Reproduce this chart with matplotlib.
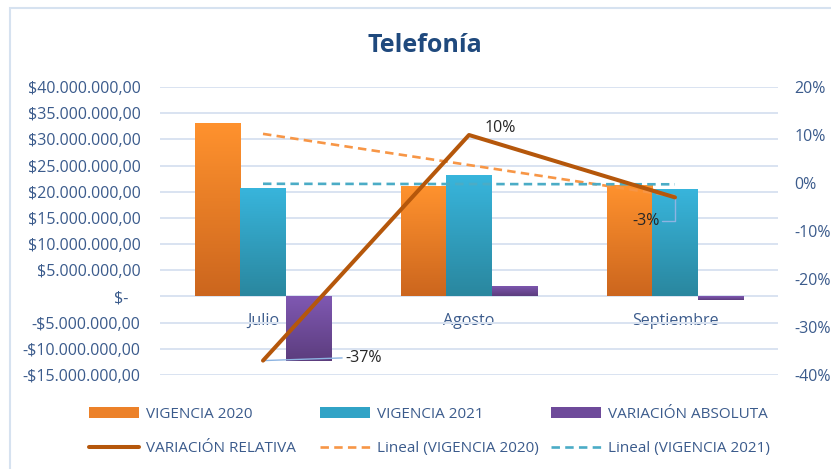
import matplotlib.pyplot as plt
import numpy as np
from matplotlib.colors import LinearSegmentedColormap
from matplotlib.patches import Rectangle
from matplotlib.ticker import FuncFormatter, MultipleLocator

# ============================================================
# DATA
# ============================================================
meses = ['Julio', 'Agosto', 'Septiembre']
vigencia_2020 = [33.1e6, 21.0e6, 21.2e6]
vigencia_2021 = [20.7e6, 23.1e6, 20.6e6]
variacion_abs = [-12.4e6, 2.0e6, -0.6e6]
variacion_rel = [-0.37, 0.10, -0.03]

# ============================================================
# STYLE
# ============================================================
plt.rcParams['font.family'] = ['Open Sans', 'DejaVu Sans']
TXT = '#3B5B8C'
GRID = '#D9E3F1'
W, H = 831, 469


def money(v, pos):
    if abs(v) < 1:
        return '$-   '
    s = f"{abs(v):,.2f}".replace(',', 'X').replace('.', ',').replace('X', '.')
    return ('-$' if v < 0 else '$') + s


def gradient_bars(ax, bars, top, bottom):
    cmap = LinearSegmentedColormap.from_list('g', [top, bottom])
    grad = np.linspace(0, 1, 64).reshape(-1, 1)
    for b in bars:
        x0, y0 = b.get_x(), b.get_y()
        w, h = b.get_width(), b.get_height()
        im = ax.imshow(grad, cmap=cmap, extent=(x0, x0 + w, min(y0, y0 + h), max(y0, y0 + h)),
                       aspect='auto', origin='upper', zorder=2.1)
        im.set_clip_path(b)


fig = plt.figure(figsize=(W / 100, H / 100), dpi=100)
fig.add_artist(Rectangle((10 / W, -0.05), 1.1, 1 - 8 / H + 0.05, transform=fig.transFigure,
                         fill=False, edgecolor='#D6E2F0', lw=1.5))
fig.text(425 / W, 1 - 45 / H, 'Telefonía', ha='center', va='center',
         fontsize=18, fontweight='bold', color='#1F497D')

ax = fig.add_axes([160 / W, 94 / H, 618 / W, 288 / H])
x = np.arange(len(meses))
bw = 0.22

b20 = ax.bar(x - bw, vigencia_2020, bw, color='#EC8129', zorder=2, label='VIGENCIA 2020')
b21 = ax.bar(x, vigencia_2021, bw, color='#31A3C6', zorder=2, label='VIGENCIA 2021')
bab = ax.bar(x + bw, variacion_abs, bw, color='#6E4A9A', zorder=2, label='VARIACIÓN ABSOLUTA')
gradient_bars(ax, b20, '#FF922E', '#CC661E')
gradient_bars(ax, b21, '#38B5DC', '#2A879F')
gradient_bars(ax, bab, '#7F58B2', '#5C3D7E')

# linear trendlines (as Excel computes them)
p20 = np.polyfit(x, vigencia_2020, 1)
p21 = np.polyfit(x, vigencia_2021, 1)
t20, = ax.plot(x, np.polyval(p20, x), color='#F79646', lw=1.9, ls=(0, (3.2, 2)), zorder=3,
               label='Lineal (VIGENCIA 2020)')
t21, = ax.plot(x, np.polyval(p21, x), color='#4BACC6', lw=1.9, ls=(0, (3.2, 2)), zorder=3,
               label='Lineal (VIGENCIA 2021)')

ax.set_xlim(-0.5, 2.5)
ax.set_ylim(-15e6, 40e6)
ax.yaxis.set_major_locator(MultipleLocator(5e6))
ax.yaxis.set_major_formatter(FuncFormatter(money))
ax.grid(axis='y', color=GRID, lw=1.4)
ax.set_axisbelow(True)
ax.set_xticks(x)
ax.set_xticklabels(meses)
ax.spines['bottom'].set_position(('data', 0))
for s in ax.spines.values():
    s.set_visible(False)
ax.tick_params(axis='x', length=0, pad=12, labelsize=11.5, labelcolor=TXT)
ax.tick_params(axis='y', length=0, pad=14, labelsize=11.5, labelcolor=TXT)

# ============================================================
# SECONDARY AXIS: VARIACIÓN RELATIVA
# ============================================================
ax2 = ax.twinx()
rel, = ax2.plot(x, variacion_rel, color='#B5570B', lw=2.9, solid_capstyle='round',
                solid_joinstyle='round', zorder=4, label='VARIACIÓN RELATIVA')
ax2.set_ylim(-0.4, 0.2)
ax2.yaxis.set_major_locator(MultipleLocator(0.1))
ax2.yaxis.set_major_formatter(FuncFormatter(lambda v, p: f"{v:.0%}"))
for s in ax2.spines.values():
    s.set_visible(False)
ax2.tick_params(axis='y', length=0, pad=12, labelsize=11.5, labelcolor=TXT)

lead = dict(arrowstyle='-', color='#8DB4E2', lw=1.0, shrinkA=0, shrinkB=0)
ax2.annotate(f"{variacion_rel[0]:.0%}", (0, variacion_rel[0]), xytext=(59, 2),
             textcoords='offset points', ha='left', va='center', fontsize=11.5, color='#262626',
             arrowprops=dict(lead, relpos=(0, 0.5)))
ax2.annotate(f"{variacion_rel[1]:.0%}", (1, variacion_rel[1]), xytext=(11, 5),
             textcoords='offset points', ha='left', va='center', fontsize=11.5, color='#262626')
ax2.annotate(f"{variacion_rel[2]:.0%}", (2, variacion_rel[2]), xytext=(-21, -17),
             textcoords='offset points', ha='center', va='center', fontsize=11.5, color='#262626',
             arrowprops=dict(lead, relpos=(1, 0.5),
                             connectionstyle='angle,angleA=0,angleB=90,rad=0'))

# ============================================================
# LEGEND (three columns)
# ============================================================
cols = [([b20, rel], 89), ([b21, t20], 320), ([bab, t21], 551)]
for hs, xpos in cols:
    fig.legend(hs, [h.get_label() for h in hs], loc='upper left',
               bbox_to_anchor=(xpos / W, 1 - 407 / H), frameon=False, fontsize=11,
               labelcolor=TXT, handlelength=3.3, handletextpad=0.45, labelspacing=1.25,
               borderpad=0, borderaxespad=0)

fig.savefig('out.png', dpi=100)
